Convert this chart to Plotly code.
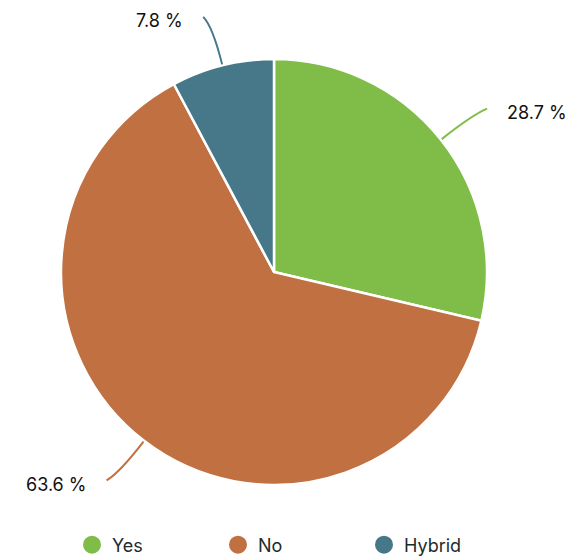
import math
import plotly.graph_objects as go

# Survey answers and their shares (%)
categories = ["Yes", "No", "Hybrid"]
shares = [28.7, 63.6, 7.8]
colors = ["#80BD48", "#C07041", "#46788A"]

W, H = 566, 559
CX, CY, R = 274, 272, 213  # pie centre / radius in pixels

fig = go.Figure()

fig.add_trace(go.Pie(
    labels=categories,
    values=shares,
    sort=False,
    direction="clockwise",
    rotation=0,
    marker=dict(colors=colors, line=dict(color="white", width=2.5)),
    textinfo="none",
    hoverinfo="label+percent",
    showlegend=False,
    domain=dict(x=[(CX - R) / W, (CX + R) / W],
                y=[(H - CY - R) / H, (H - CY + R) / H]),
))

# Legend entries with round markers
for name, col in zip(categories, colors):
    fig.add_trace(go.Scatter(
        x=[None], y=[None], mode="markers", name=name,
        marker=dict(symbol="circle", size=16, color=col,
                    line=dict(color=col, width=2)),
    ))


def px2paper(x, y):
    return x / W, 1 - y / H


# Curved leader lines and outside percentage labels
total = sum(shares)
cum = 0.0
shapes, annotations = [], []
for name, val, col in zip(categories, shares, colors):
    mid = (cum + val / 2) / total * 2 * math.pi
    cum += val
    dx, dy = math.sin(mid), -math.cos(mid)
    side = 1 if dx >= 0 else -1
    p0 = (CX + (R + 1) * dx, CY + (R + 1) * dy)
    c = (CX + (R + 40) * dx, CY + (R + 40) * dy)
    p2 = (CX + (R + 50) * dx + side * 7, CY + (R + 50) * dy)
    pts = [px2paper(*p) for p in (p0, c, p2)]
    path = "M {:.5f},{:.5f} Q {:.5f},{:.5f} {:.5f},{:.5f}".format(
        pts[0][0], pts[0][1], pts[1][0], pts[1][1], pts[2][0], pts[2][1])
    shapes.append(dict(type="path", path=path, xref="paper", yref="paper",
                       line=dict(color=col, width=2)))
    lx, ly = px2paper(p2[0] + side * 18, p2[1] + 4)
    annotations.append(dict(
        x=lx, y=ly, xref="paper", yref="paper",
        text="{:.1f} %".format(val), showarrow=False,
        xanchor="left" if side > 0 else "right", yanchor="middle",
        font=dict(family="Inter, sans-serif", size=18, color="#111111"),
    ))

fig.update_layout(
    width=W, height=H,
    margin=dict(l=0, r=0, t=0, b=0, autoexpand=False),
    paper_bgcolor="white",
    plot_bgcolor="white",
    xaxis=dict(visible=False),
    yaxis=dict(visible=False),
    shapes=shapes,
    annotations=annotations,
    showlegend=True,
    legend=dict(
        orientation="h",
        x=72 / W, xanchor="left",
        y=14 / H, yanchor="middle",
        font=dict(family="Inter, sans-serif", size=18, color="#1E2B2B"),
        entrywidth=101,
        itemclick=False, itemdoubleclick=False,
    ),
)

fig.write_html("out.html")
